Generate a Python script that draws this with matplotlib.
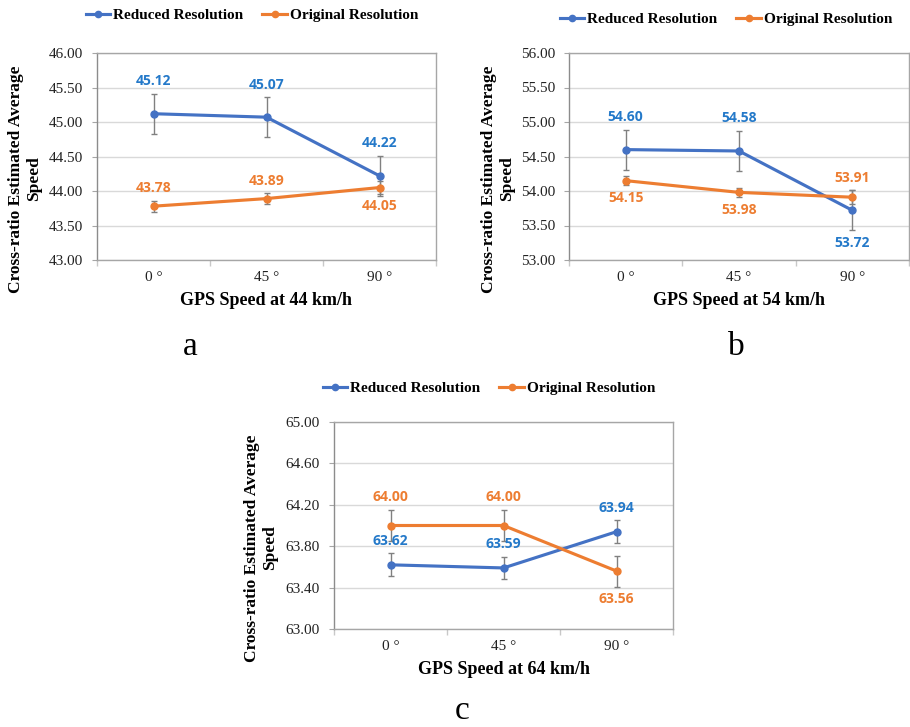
import matplotlib
matplotlib.use("Agg")
import matplotlib.pyplot as plt
import numpy as np

# ---- data ----
angles = ["0 °", "45 °", "90 °"]

a_reduced = [45.12, 45.07, 44.22]
a_reduced_err = [0.29, 0.29, 0.29]
a_original = [43.78, 43.89, 44.05]
a_original_err = [0.08, 0.08, 0.09]

b_reduced = [54.60, 54.58, 53.72]
b_reduced_err = [0.29, 0.29, 0.29]
b_original = [54.15, 53.98, 53.91]
b_original_err = [0.07, 0.07, 0.10]

c_reduced = [63.62, 63.59, 63.94]
c_reduced_err = [0.11, 0.11, 0.11]
c_original = [64.00, 64.00, 63.56]
c_original_err = [0.15, 0.15, 0.15]

a_yticks = [43.00, 43.50, 44.00, 44.50, 45.00, 45.50, 46.00]
b_yticks = [53.00, 53.50, 54.00, 54.50, 55.00, 55.50, 56.00]
c_yticks = [63.00, 63.40, 63.80, 64.20, 64.60, 65.00]

xlabels = ["GPS Speed at 44 km/h", "GPS Speed at 54 km/h", "GPS Speed at 64 km/h"]
ylabel = "Cross-ratio Estimated Average\nSpeed"
series_names = ["Reduced Resolution", "Original Resolution"]
panel_letters = ["a", "b", "c"]

# label placement (above = +1, below = -1)
a_dirs = ([1, 1, 1], [1, 1, -1])
b_dirs = ([1, 1, -1], [-1, -1, 1])
c_dirs = ([1, 1, 1], [1, 1, -1])

# ---- style ----
BLUE = "#4472C4"
ORANGE = "#ED7D31"
BLUE_LBL = "#2479C9"
ORANGE_LBL = "#ED7D31"
SERIF = "Liberation Serif"
SANS = "Open Sans"

W, H = 910, 727
fig = plt.figure(figsize=(W / 100, H / 100), dpi=100)

def frac_axes(l, t, r, b):
    return fig.add_axes([l / W, 1 - b / H, (r - l) / W, (b - t) / H])

panels = [
    dict(box=(97, 53, 436, 260), red=a_reduced, rerr=a_reduced_err, org=a_original, oerr=a_original_err,
         yt=a_yticks, dirs=a_dirs, leg=(252, 15), ylab=(25, 179), letter=(190, 355, "baseline")),
    dict(box=(569, 53, 909, 260), red=b_reduced, rerr=b_reduced_err, org=b_original, oerr=b_original_err,
         yt=b_yticks, dirs=b_dirs, leg=(726, 19), ylab=(498, 179), letter=(736, 355, "baseline")),
    dict(box=(334, 422, 673, 629), red=c_reduced, rerr=c_reduced_err, org=c_original, oerr=c_original_err,
         yt=c_yticks, dirs=c_dirs, leg=(489, 388), ylab=(261, 548), letter=(462, 726, "bottom")),
]

x = np.arange(len(angles))

for i, p in enumerate(panels):
    ax = frac_axes(*p["box"])
    handles = []
    for vals, errs, col, lcol, dirs, name in [
        (p["red"], p["rerr"], BLUE, BLUE_LBL, p["dirs"][0], series_names[0]),
        (p["org"], p["oerr"], ORANGE, ORANGE_LBL, p["dirs"][1], series_names[1]),
    ]:
        ax.errorbar(x, vals, yerr=errs, fmt="none", ecolor="#808080", elinewidth=1.0,
                    capsize=2.5, capthick=1.0, zorder=3)
        h, = ax.plot(x, vals, color=col, lw=2.25, marker="o", markersize=5, zorder=4, label=name)
        handles.append(h)
        for xi, v, e, d in zip(x, vals, errs, dirs):
            ax.annotate(f"{v:.2f}", (xi, v + d * e), xytext=(0, d * 9), textcoords="offset points",
                        ha="center", va="center", color=lcol, fontsize=10, fontweight="bold",
                        family=SANS, zorder=5)
    ax.set_xlim(-0.5, 2.5)
    ax.set_ylim(p["yt"][0], p["yt"][-1])
    ax.set_yticks(p["yt"])
    ax.set_yticklabels([f"{t:.2f}" for t in p["yt"]], family=SERIF, fontsize=11, color="#222222")
    ax.set_xticks(x)
    ax.set_xticklabels(angles, family=SERIF, fontsize=11, color="#222222")
    ax.set_xticks([-0.5, 0.5, 1.5, 2.5], minor=True)
    ax.tick_params(axis="x", which="major", length=0, pad=8)
    ax.tick_params(axis="x", which="minor", length=4, color="#C8C8C8", width=1)
    ax.tick_params(axis="y", length=3.6, color="#A6A6A6", pad=6.5)
    ax.grid(axis="y", color="#D9D9D9", lw=1.0, zorder=0)
    ax.set_axisbelow(True)
    for s in ax.spines.values():
        s.set_color("#A6A6A6")
        s.set_linewidth(1.0)
    ax.spines["left"].set_color("#8C8C8C")
    ax.set_xlabel(xlabels[i], family=SERIF, fontsize=13, fontweight="bold", labelpad=6)
    lx, ly = p["leg"]
    ax.legend(handles=handles, loc="center", bbox_to_anchor=(lx / W, 1 - ly / H),
              bbox_transform=fig.transFigure, ncol=2, frameon=False,
              prop=dict(family=SERIF, weight="bold", size=11), handlelength=1.6,
              handletextpad=0.2, columnspacing=1.25, borderaxespad=0, markerscale=0.9)
    yx, yy = p["ylab"]
    fig.text(yx / W, 1 - yy / H, ylabel, rotation=90, ha="center", va="center",
             multialignment="center", family=SERIF, fontsize=12.5, fontweight="bold",
             linespacing=1.1)
    tx, ty, tva = p["letter"]
    fig.text(tx / W, 1 - ty / H, panel_letters[i], ha="center", va=tva,
             family=SERIF, fontsize=24)

fig.savefig("out.png", dpi=100)
